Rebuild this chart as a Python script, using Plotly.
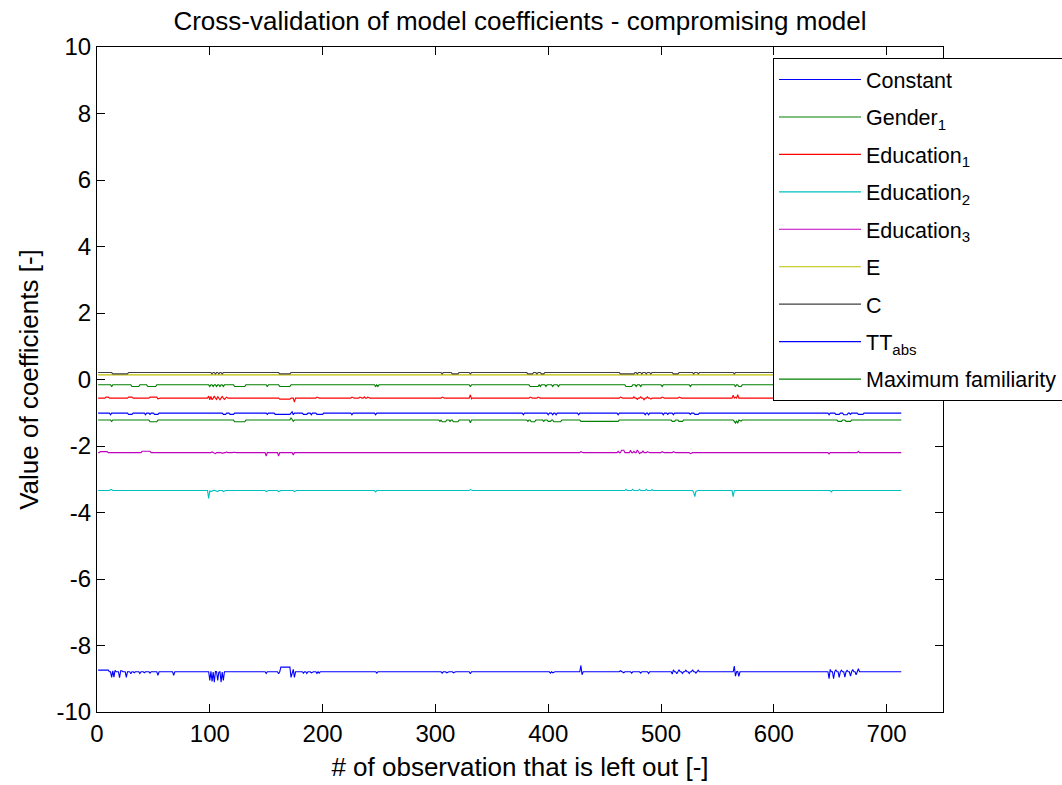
import plotly.graph_objects as go

# ---------------- data ----------------
n_obs = 713
observation = list(range(1, n_obs + 1))

series_names = ["Constant", "Gender<sub>1</sub>", "Education<sub>1</sub>",
                "Education<sub>2</sub>", "Education<sub>3</sub>", "E", "C",
                "TT<sub>abs</sub>", "Maximum familiarity"]

# typical (most common) coefficient value of each series
baseline_constant = -8.79
baseline_gender1 = -0.16
baseline_education1 = -0.56
baseline_education2 = -3.34
baseline_education3 = -2.20
baseline_e = 0.14
baseline_c = 0.21
baseline_ttabs = -1.01
baseline_maxfam = -1.22

# deviations from the baseline: (first obs, last obs, value)
glitch_constant = [
    (1, 10, -8.74), (13, 13, -8.96), (14, 14, -8.76), (15, 15, -8.95), (16, 16, -8.75),
    (20, 20, -8.97), (21, 22, -8.76), (26, 26, -8.96), (30, 30, -8.85), (33, 33, -8.82),
    (38, 38, -8.84), (42, 42, -8.82), (47, 47, -8.83), (54, 54, -8.90), (68, 68, -8.90),
    (100, 100, -9.05), (101, 101, -8.78), (102, 102, -9.08), (103, 103, -8.80),
    (104, 104, -9.10), (105, 105, -8.78), (107, 107, -9.05), (108, 108, -8.80),
    (110, 110, -9.10), (111, 111, -8.80), (112, 112, -9.05),
    (150, 150, -8.84), (161, 161, -8.85), (163, 171, -8.65), (172, 172, -8.96),
    (174, 174, -8.72), (175, 175, -8.96), (183, 183, -8.83), (186, 186, -8.84),
    (190, 190, -8.82), (195, 195, -8.84), (197, 197, -8.83), (248, 248, -8.83),
    (306, 306, -8.83), (310, 310, -8.82), (316, 316, -8.82), (331, 331, -8.85),
    (402, 402, -8.83), (404, 404, -8.82), (429, 429, -8.60), (430, 430, -8.88),
    (464, 464, -8.76), (467, 467, -8.82), (470, 470, -8.77), (474, 474, -8.83),
    (478, 478, -8.77), (482, 482, -8.83), (486, 486, -8.78), (489, 489, -8.84),
    (510, 510, -8.86), (511, 511, -8.73), (514, 514, -8.85), (516, 516, -8.73),
    (519, 519, -8.84), (522, 522, -8.74), (525, 525, -8.84), (528, 528, -8.73),
    (531, 531, -8.83), (533, 533, -8.74), (565, 565, -8.62), (566, 566, -8.92),
    (568, 568, -8.78), (569, 569, -8.93), (649, 649, -9.00), (650, 650, -8.72),
    (653, 653, -9.00), (655, 655, -8.73), (658, 658, -8.96), (660, 660, -8.74),
    (663, 663, -8.95), (665, 665, -8.75), (668, 668, -8.92), (670, 670, -8.72),
    (673, 673, -8.88), (675, 675, -8.70), (678, 678, -8.80),
]
glitch_gender1 = [
    (13, 13, -0.22), (31, 37, -0.21), (45, 52, -0.21), (100, 100, -0.21), (103, 103, -0.21),
    (106, 106, -0.21), (109, 109, -0.21), (112, 112, -0.21), (122, 131, -0.21),
    (151, 151, -0.22), (162, 171, -0.21), (247, 247, -0.22), (249, 249, -0.21),
    (331, 331, -0.22), (384, 391, -0.21), (393, 393, -0.21), (398, 398, -0.21),
    (404, 404, -0.21), (409, 409, -0.21), (469, 474, -0.21), (478, 478, -0.21),
    (482, 482, -0.21), (501, 501, -0.21), (526, 526, -0.21), (566, 566, -0.22),
    (569, 571, -0.21),
]
glitch_education1 = [
    (8, 10, -0.53), (13, 13, -0.58), (28, 31, -0.53), (47, 53, -0.53), (54, 54, -0.58),
    (99, 99, -0.50), (100, 100, -0.61), (101, 101, -0.51), (102, 102, -0.61),
    (104, 104, -0.50), (106, 106, -0.60), (107, 107, -0.51), (109, 109, -0.61),
    (111, 111, -0.51), (113, 113, -0.60), (115, 115, -0.53), (162, 171, -0.59),
    (175, 175, -0.68), (195, 195, -0.53), (226, 226, -0.53), (233, 233, -0.53),
    (237, 237, -0.52), (240, 240, -0.53), (306, 306, -0.53), (315, 315, -0.54),
    (331, 331, -0.46), (332, 332, -0.58), (384, 384, -0.53), (391, 391, -0.53),
    (427, 427, -0.58), (464, 464, -0.53), (476, 476, -0.52), (479, 479, -0.60),
    (482, 482, -0.52), (485, 485, -0.61), (488, 488, -0.52), (491, 491, -0.59),
    (501, 501, -0.53), (516, 516, -0.53), (564, 564, -0.47), (566, 566, -0.53),
    (568, 568, -0.46), (571, 571, -0.55),
]
glitch_education2 = [
    (12, 13, -3.31), (99, 99, -3.58), (101, 101, -3.37), (104, 104, -3.33),
    (107, 107, -3.37), (110, 110, -3.33), (112, 112, -3.37), (150, 150, -3.37),
    (161, 161, -3.37), (175, 175, -3.37), (247, 247, -3.38), (331, 331, -3.31),
    (469, 469, -3.30), (472, 472, -3.34), (475, 475, -3.30), (478, 478, -3.35),
    (481, 481, -3.30), (484, 484, -3.34), (487, 487, -3.30), (492, 492, -3.31),
    (501, 501, -3.32), (529, 529, -3.40), (530, 530, -3.52), (531, 531, -3.36),
    (564, 564, -3.52), (651, 651, -3.38),
]
glitch_education3 = [
    (3, 9, -2.17), (27, 27, -2.18), (40, 47, -2.16), (99, 99, -2.22), (102, 102, -2.18),
    (105, 105, -2.23), (108, 108, -2.18), (111, 111, -2.22), (115, 115, -2.18),
    (118, 118, -2.22), (121, 121, -2.19), (150, 150, -2.30), (161, 161, -2.30),
    (174, 174, -2.27), (429, 429, -2.17), (462, 462, -2.16), (465, 467, -2.13),
    (470, 470, -2.18), (473, 473, -2.13), (476, 476, -2.16), (479, 479, -2.12),
    (481, 481, -2.23), (484, 484, -2.14), (488, 488, -2.17), (492, 492, -2.20),
    (501, 501, -2.17), (511, 511, -2.17), (526, 526, -2.23), (649, 649, -2.24),
    (675, 675, -2.16),
]
glitch_e = []
glitch_c = [
    (14, 27, 0.17), (102, 102, 0.17), (105, 105, 0.17), (108, 108, 0.17), (111, 111, 0.17),
    (162, 171, 0.17), (306, 306, 0.17), (315, 320, 0.17), (331, 331, 0.17),
    (382, 386, 0.17), (390, 390, 0.17), (394, 396, 0.17), (464, 476, 0.17),
    (479, 479, 0.17), (483, 483, 0.17), (487, 487, 0.17), (491, 491, 0.17),
    (511, 515, 0.17), (529, 529, 0.17), (533, 533, 0.17), (565, 565, 0.17),
]
glitch_ttabs = [
    (12, 12, -1.06), (28, 31, -1.05), (43, 43, -1.06), (47, 47, -1.05), (51, 54, -1.05),
    (112, 114, -1.05), (118, 121, -1.05), (151, 151, -1.05), (158, 171, -1.05),
    (173, 173, -0.97), (174, 174, -1.06), (183, 186, -1.05), (190, 190, -1.06),
    (195, 200, -1.05), (226, 226, -1.06), (247, 247, -1.06), (331, 331, -0.99),
    (378, 378, -1.06), (400, 400, -1.06), (404, 404, -1.06), (407, 407, -1.06),
    (427, 427, -1.06), (462, 462, -1.06), (486, 486, -1.06), (489, 489, -1.06),
    (502, 502, -1.06), (506, 506, -1.05), (511, 511, -1.06), (526, 526, -1.05),
    (530, 533, -1.05), (649, 649, -1.06), (655, 658, -1.05), (662, 665, -1.06),
    (668, 668, -1.05), (675, 679, -1.05),
]
glitch_maxfam = [
    (13, 13, -1.26), (47, 53, -1.27), (122, 131, -1.27), (172, 172, -1.15),
    (174, 174, -1.26), (304, 304, -1.26), (306, 309, -1.27), (313, 313, -1.26),
    (316, 320, -1.27), (331, 331, -1.30), (382, 382, -1.26), (385, 388, -1.27),
    (396, 396, -1.26), (400, 402, -1.26), (405, 411, -1.27), (429, 462, -1.26),
    (510, 512, -1.26), (516, 519, -1.26), (565, 565, -1.26), (566, 566, -1.31),
    (567, 567, -1.24), (568, 568, -1.32), (570, 571, -1.25), (657, 660, -1.26),
    (664, 668, -1.26),
]

baselines = [baseline_constant, baseline_gender1, baseline_education1,
             baseline_education2, baseline_education3, baseline_e, baseline_c,
             baseline_ttabs, baseline_maxfam]
glitches = [glitch_constant, glitch_gender1, glitch_education1, glitch_education2,
            glitch_education3, glitch_e, glitch_c, glitch_ttabs, glitch_maxfam]

colors = ["#0000FF", "#008000", "#FF0000", "#00BFBF", "#BF00BF",
          "#BFBF00", "#404040", "#0000FF", "#008000"]

x_ticks = [0, 100, 200, 300, 400, 500, 600, 700]
y_ticks = [-10, -8, -6, -4, -2, 0, 2, 4, 6, 8, 10]

# ---------------- figure ----------------
def build_series(base, spans):
    vals = [base] * n_obs
    for a, b, v in spans:
        for i in range(a, b + 1):
            vals[i - 1] = v
    return vals

fig = go.Figure()
for k, (name, base, spans, col) in enumerate(zip(series_names, baselines, glitches, colors)):
    fig.add_trace(go.Scatter(x=observation, y=build_series(base, spans), mode="lines",
                             name=name, legendgroup=f"g{k}",
                             line=dict(color=col, width=1.1)))

FONT = "Liberation Sans, Arial, sans-serif"
axis_common = dict(showline=True, linecolor="black", linewidth=1, mirror="allticks",
                   ticks="inside", ticklen=8, tickcolor="black", showgrid=False,
                   zeroline=False, tickfont=dict(family=FONT, size=24, color="black"))

fig.update_layout(
    width=1062, height=785,
    paper_bgcolor="white", plot_bgcolor="white",
    margin=dict(l=97, r=119, t=47, b=73, autoexpand=False),
    title=dict(text="Cross-validation of model coefficients - compromising model",
               x=0.5, xref="paper", xanchor="center", y=1 - 21 / 785, yanchor="middle",
               font=dict(family=FONT, size=26, color="black")),
    xaxis=dict(range=[0, 750], tickvals=x_ticks, ticktext=[str(v) for v in x_ticks],
               title=dict(text="# of observation that is left out [-]", standoff=12,
                          font=dict(family=FONT, size=26, color="black")),
               **axis_common),
    yaxis=dict(range=[-10, 10], tickvals=y_ticks, ticktext=[str(v) for v in y_ticks],
               title=dict(text="Value of coefficients [-]", standoff=10,
                          font=dict(family=FONT, size=26, color="black")),
               **axis_common),
    legend=dict(x=(773 - 97) / 846, y=(712 - 58) / 665, xanchor="left", yanchor="top",
                bgcolor="white", bordercolor="black", borderwidth=1,
                font=dict(family=FONT, size=21.5, color="black"), itemwidth=82,
                traceorder="grouped", tracegroupgap=6.5),
    showlegend=True,
)

fig.write_html("out.html")
